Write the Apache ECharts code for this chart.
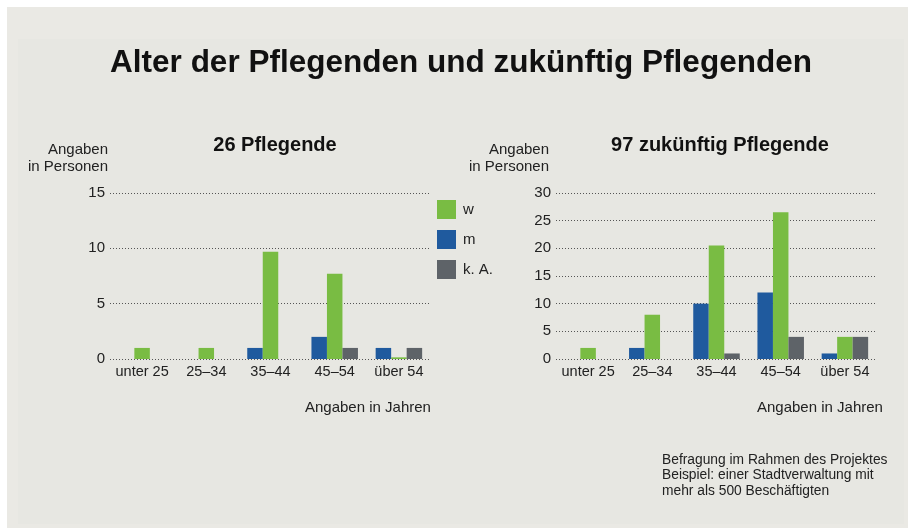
<!DOCTYPE html>
<html><head><meta charset="utf-8">
<script src="https://cdn.jsdelivr.net/npm/echarts@6/dist/echarts.min.js"></script>
<style>html,body{margin:0;padding:0;background:#fff}#c{width:908px;height:529px}</style>
</head><body><div id="c"></div>
<script>
const categories = ['unter 25', '25–34', '35–44', '45–54', 'über 54'];
const seriesNames = ['w', 'm', 'k. A.'];
// 26 Pflegende
const leftW  = [1, 1, 9.7, 7.7, 0.15];
const leftM  = [0, 0, 1, 2, 1];
const leftKA = [0, 0, 0, 1, 1];
// 97 zukünftig Pflegende
const rightW  = [2, 8, 20.5, 26.5, 4];
const rightM  = [0, 2, 10, 12, 1];
const rightKA = [0, 0, 1, 4, 4];
const leftTicks = {min: 0, max: 15, interval: 5};
const rightTicks = {min: 0, max: 30, interval: 5};

const colors = {w: '#79bc43', m: '#1f5a9e', ka: '#5e6368'};
const FONT = 'Liberation Sans, Arial, sans-serif';

const chart = echarts.init(document.getElementById('c'), null, {renderer: 'canvas'});

function xAxis(gi) {
  return {
    type: 'category', gridIndex: gi, data: categories,
    axisLine: {show: false}, axisTick: {show: false},
    axisLabel: {color: '#222', fontSize: 14.5, fontFamily: FONT, margin: 5, interval: 0}
  };
}
function yAxis(gi, t) {
  return {
    type: 'value', gridIndex: gi, min: t.min, max: t.max, interval: t.interval,
    axisLine: {show: false}, axisTick: {show: false},
    axisLabel: {color: '#222', fontSize: 15, fontFamily: FONT, margin: 5},
    splitLine: {show: true, lineStyle: {type: [1, 2], color: '#555', width: 1}}
  };
}
function bar(name, data, gi, color) {
  return {
    type: 'bar', name: name, data: data, xAxisIndex: gi, yAxisIndex: gi,
    barWidth: 15.5, barGap: '0%', itemStyle: {color: color}, silent: true
  };
}
function txt(x, y, text, size, weight, align, color) {
  return {
    type: 'text', x: x, y: y, silent: true,
    style: {text: text, fontSize: size, fontWeight: weight || 'normal', fontFamily: FONT,
            fill: color || '#222', align: align || 'left', verticalAlign: 'middle'}
  };
}

chart.setOption({
  animation: false,
  backgroundColor: '#ffffff',
  grid: [
    {left: 110, top: 193, width: 321, height: 166},
    {left: 556, top: 193, width: 321, height: 166}
  ],
  xAxis: [xAxis(0), xAxis(1)],
  yAxis: [yAxis(0, leftTicks), yAxis(1, rightTicks)],
  legend: {
    data: seriesNames, orient: 'vertical', left: 432, top: 195,
    icon: 'rect', itemWidth: 19, itemHeight: 19, itemGap: 11,
    selectedMode: false,
    textStyle: {color: '#222', fontSize: 15, fontFamily: FONT, padding: [0, 0, 0, 2]}
  },
  series: [
    bar('m', leftM, 0, colors.m),
    bar('w', leftW, 0, colors.w),
    bar('k. A.', leftKA, 0, colors.ka),
    bar('m', rightM, 1, colors.m),
    bar('w', rightW, 1, colors.w),
    bar('k. A.', rightKA, 1, colors.ka)
  ],
  graphic: [
    {type: 'rect', z: -10, silent: true, shape: {x: 7, y: 7, width: 901, height: 521}, style: {fill: '#eae9e4'}},
    {type: 'rect', z: -9, silent: true, shape: {x: 18, y: 39, width: 886, height: 485}, style: {fill: '#e7e7e2'}},
    txt(461, 63, 'Alter der Pflegenden und zukünftig Pflegenden', 31.5, 'bold', 'center', '#111'),
    txt(275, 145, '26 Pflegende', 20, 'bold', 'center', '#111'),
    txt(720, 145, '97 zukünftig Pflegende', 20, 'bold', 'center', '#111'),
    txt(108, 150, 'Angaben', 15, 'normal', 'right'),
    txt(108, 167, 'in Personen', 15, 'normal', 'right'),
    txt(549, 150, 'Angaben', 15, 'normal', 'right'),
    txt(549, 167, 'in Personen', 15, 'normal', 'right'),
    txt(305, 408, 'Angaben in Jahren', 15, 'normal', 'left'),
    txt(757, 408, 'Angaben in Jahren', 15, 'normal', 'left'),
    txt(662, 460, 'Befragung im Rahmen des Projektes', 13.8, 'normal', 'left'),
    txt(662, 475.5, 'Beispiel: einer Stadtverwaltung mit', 13.8, 'normal', 'left'),
    txt(662, 491, 'mehr als 500 Beschäftigten', 13.8, 'normal', 'left')
  ]
});
</script></body></html>
